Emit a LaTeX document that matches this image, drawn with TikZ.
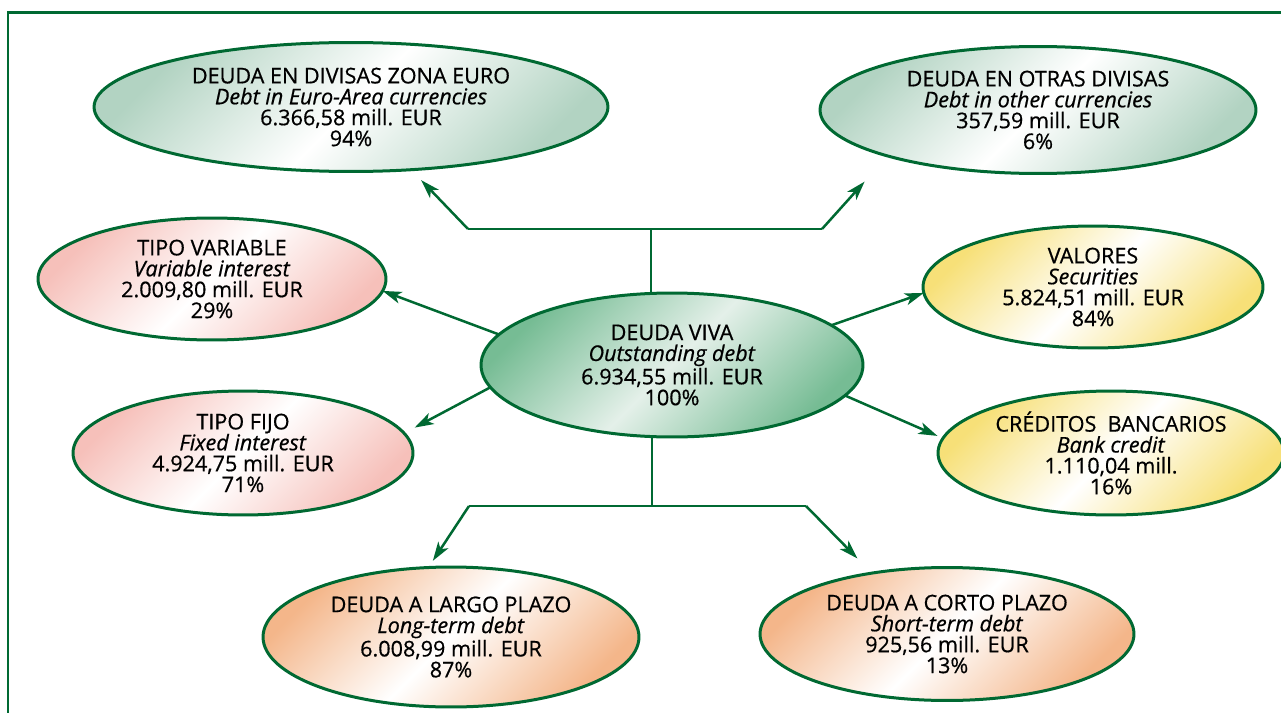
\documentclass[tikz,border=0pt]{standalone}
\usepackage{fontspec}
\setmainfont{Open Sans}[FakeBold=0.6]
\usetikzlibrary{shapes.geometric,arrows.meta}
\definecolor{lg}{RGB}{0,105,50}
\definecolor{gtopc}{RGB}{178,211,194}
\definecolor{gmidc}{RGB}{118,188,148}
\definecolor{gmidl}{RGB}{228,240,233}
\definecolor{pinkc}{RGB}{246,192,186}
\definecolor{yelc}{RGB}{247,224,120}
\definecolor{orac}{RGB}{244,182,138}
\tikzset{
  bub/.style={ellipse, draw=lg, line width=0.06cm, inner sep=0pt, outer sep=0pt,
    align=center, font=\fontsize{12.3}{11.9}\selectfont},
  gtop/.style={top color=gtopc, bottom color=gtopc, middle color=white, shading angle=45},
  gmid/.style={top color=gmidc, bottom color=gmidc, middle color=gmidl, shading angle=45},
  pink/.style={top color=pinkc, bottom color=pinkc, middle color=white, shading angle=45},
  yel/.style={top color=yelc, bottom color=yelc, middle color=white, shading angle=45},
  ora/.style={top color=orac, bottom color=orac, middle color=white, shading angle=45},
  conn/.style={draw=lg, line width=0.05cm},
  arr/.style={conn, -{Stealth[length=0.38cm,width=0.24cm,inset=0.1cm]}}
}
\begin{document}
\begin{tikzpicture}[x=0.02cm,y=-0.02cm]
\useasboundingbox (0,0) rectangle (1281,713);
\draw[lg, line width=0.055cm] (8,12.5) rectangle (1300,730);

\node[bub, gtop, minimum width=10.28cm, minimum height=2.58cm] (euro) at (351,107)
  {DEUDA EN DIVISAS ZONA EURO\\\textit{Debt in Euro-Area currencies}\\6.366,58 mill. EUR\\94\%};
\node[bub, gtop, minimum width=8.72cm, minimum height=2.54cm] (oth) at (1038,110)
  {DEUDA EN OTRAS DIVISAS\\\textit{Debt in other currencies}\\357,59 mill. EUR\\6\%};
\node[bub, gmid, minimum width=7.64cm, minimum height=2.88cm] (viva) at (672,365)
  {DEUDA VIVA\\\textit{Outstanding debt}\\6.934,55 mill. EUR\\100\%};
\node[bub, pink, minimum width=6.96cm, minimum height=2.44cm] (tv) at (212,279)
  {TIPO VARIABLE\\\textit{Variable interest}\\2.009,80 mill. EUR\\29\%};
\node[bub, pink, minimum width=6.8cm, minimum height=2.48cm] (tf) at (243,453)
  {TIPO FIJO\\\textit{Fixed interest}\\4.924,75 mill. EUR\\71\%};
\node[bub, yel, minimum width=6.8cm, minimum height=2.44cm] (val) at (1093,287)
  {VALORES\\\textit{Securities}\\5.824,51 mill. EUR\\84\%};
\node[bub, yel, minimum width=6.92cm, minimum height=2.48cm] (cred) at (1111,453)
  {CRÉDITOS\ \ BANCARIOS\\\textit{Bank credit}\\1.110,04 mill.\\16\%};
\node[bub, ora, minimum width=7.52cm, minimum height=2.8cm] (lp) at (451,637)
  {DEUDA A LARGO PLAZO\\\textit{Long-term debt}\\6.008,99 mill. EUR\\87\%};
\node[bub, ora, minimum width=7.48cm, minimum height=2.66cm] (cp) at (947,634)
  {DEUDA A CORTO PLAZO\\\textit{Short-term debt}\\925,56 mill. EUR\\13\%};

\coordinate (tj) at (651,229);
\coordinate (tl) at (468,229);
\coordinate (tr) at (822,229);
\draw[conn] (tj |- viva.north) -- (tj);
\draw[conn] (tl) -- (tr);
\draw[arr, shorten >=0.29cm] (tl) -- (euro);
\draw[arr, shorten >=0.69cm] (tr) -- (oth.197);

\draw[arr] (viva.170) -- (tv.356);
\draw[arr, shorten >=0.24cm] (viva.187) -- (tf.7);
\draw[arr] (viva.14) -- (val.182);
\draw[arr, shorten >=0.12cm] (viva.350) -- (cred.175);

\coordinate (bj) at (652,506);
\coordinate (bl) at (469,506);
\coordinate (br) at (806,506);
\draw[conn] (viva.south -| bj) -- (bj);
\draw[conn] (bl) -- (br);
\draw[arr, shorten >=0.16cm] (bl) -- (lp.108);
\draw[arr, shorten >=0.41cm] (br) -- (cp.141);
\end{tikzpicture}
\end{document}
